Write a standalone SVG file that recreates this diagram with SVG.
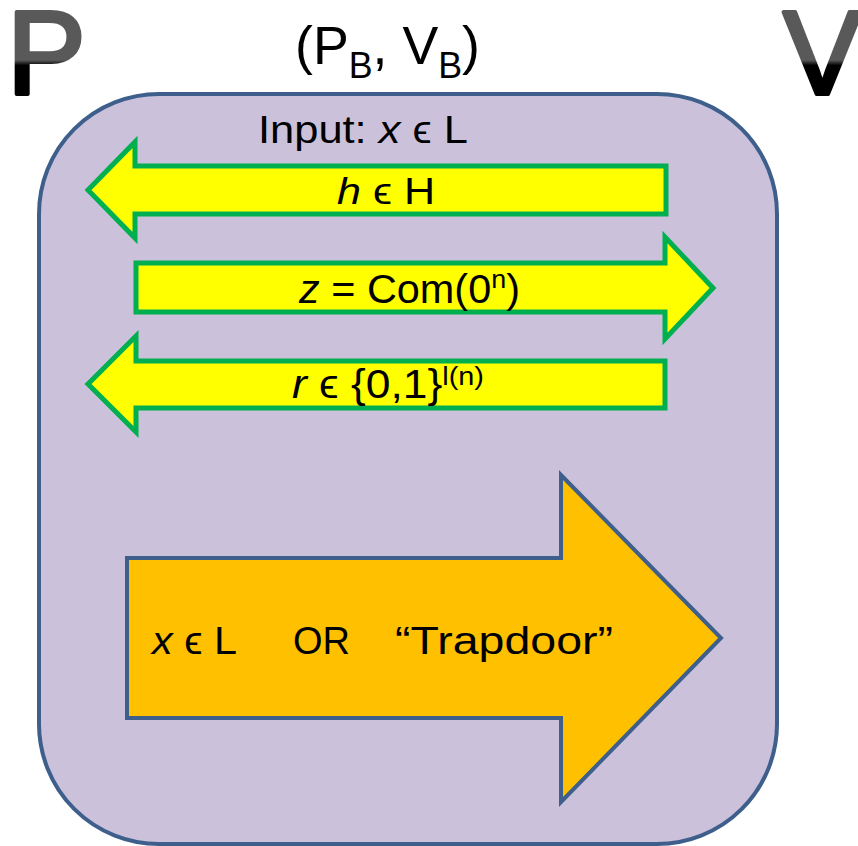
<svg xmlns="http://www.w3.org/2000/svg" width="858" height="846" viewBox="0 0 858 846">
<defs>
<linearGradient id="pv" gradientUnits="userSpaceOnUse" x1="0" y1="8" x2="0" y2="95">
<stop offset="0" stop-color="#595959"/>
<stop offset="0.6" stop-color="#595959"/>
<stop offset="0.66" stop-color="#000000"/>
<stop offset="1" stop-color="#000000"/>
</linearGradient>
<style>
text{font-family:"Liberation Sans",Arial,sans-serif;fill:#000}
.big{font-size:118px;fill:url(#pv);stroke:url(#pv);stroke-width:4;stroke-linejoin:round}
.msg{fill:#ffff00;stroke:#00b050;stroke-width:5;stroke-linejoin:miter}
.it{font-style:italic}
</style>
</defs>
<rect id="frame" x="39" y="94" width="738" height="750" rx="120" ry="120" fill="#ccc1da" stroke="#3e5f8c" stroke-width="4"/>
<g id="P"><text class="big" x="7" y="94">P</text></g>
<g id="V"><text class="big" x="783" y="94">V</text></g>
<g id="title"><text x="295" y="64" font-size="54" textLength="185" lengthAdjust="spacingAndGlyphs">(P<tspan font-size="36" dy="14">B</tspan><tspan dy="-14">, V</tspan><tspan font-size="36" dy="14">B</tspan><tspan dy="-14">)</tspan></text></g>
<g id="input"><text x="258" y="143" font-size="39" textLength="210" lengthAdjust="spacingAndGlyphs">Input: <tspan class="it">x</tspan> ϵ L</text></g>
<g id="connectors">
<g id="msg-h">
<path class="msg" d="M666,166 L135,166 L135,142 L88,190 L135,238 L135,214 L666,214 Z"/>
<text x="337" y="204" font-size="37" textLength="98" lengthAdjust="spacingAndGlyphs"><tspan class="it">h</tspan> ϵ H</text>
</g>
<g id="msg-z">
<path class="msg" d="M136,263 L665,263 L665,237 L713,288 L665,339 L665,312 L136,312 Z"/>
<text x="299" y="303" font-size="40" textLength="221" lengthAdjust="spacingAndGlyphs"><tspan class="it">z</tspan> = Com(0<tspan font-size="26" dy="-15">n</tspan><tspan dy="15">)</tspan></text>
</g>
<g id="msg-r">
<path class="msg" d="M665,361 L136,361 L136,336 L88,384 L136,432 L136,408 L665,408 Z"/>
<text x="292" y="398" font-size="40" textLength="192" lengthAdjust="spacingAndGlyphs"><tspan class="it">r</tspan> ϵ {0,1}<tspan font-size="26" dy="-13">l(n)</tspan></text>
</g>
</g>
<g id="proof">
<path d="M127,558 L561,558 L561,475 L721,638 L561,802 L561,718 L127,718 Z" fill="#ffc000" stroke="#3e5f8c" stroke-width="4"/>
<text x="152" y="654" font-size="38" textLength="85" lengthAdjust="spacingAndGlyphs"><tspan class="it">x</tspan> ϵ L</text>
<text x="293" y="654" font-size="38" textLength="57" lengthAdjust="spacingAndGlyphs">OR</text>
<text x="395" y="654" font-size="38" textLength="218" lengthAdjust="spacingAndGlyphs">“Trapdoor”</text>
</g>
</svg>
